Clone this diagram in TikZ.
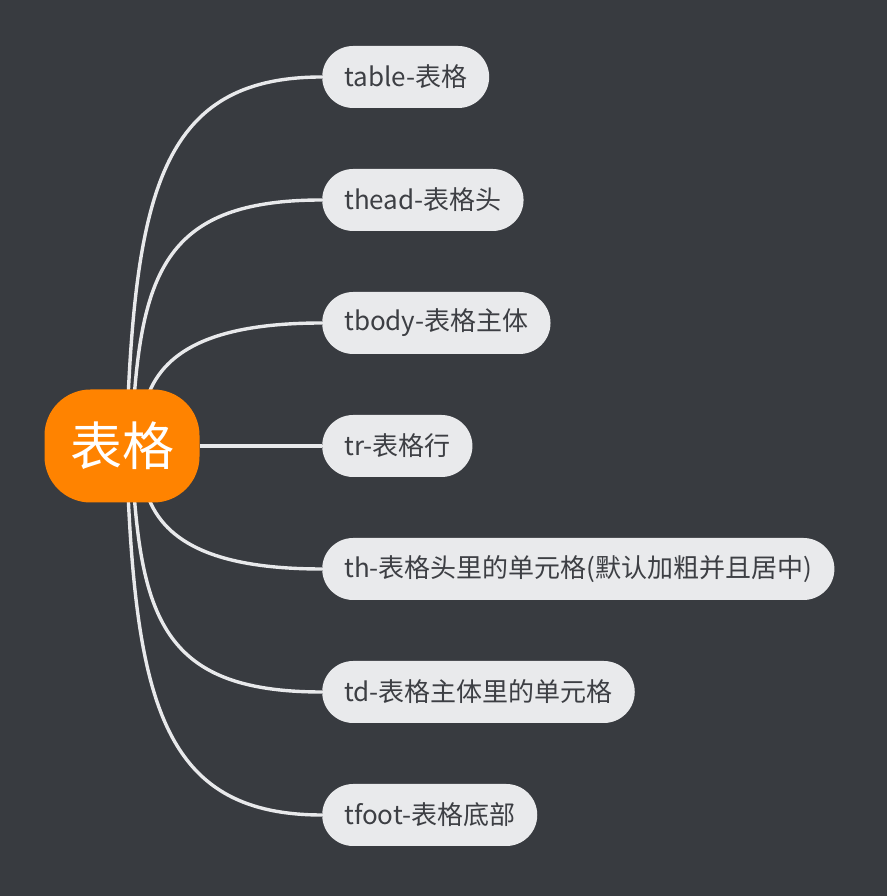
\documentclass[tikz,border=0pt]{standalone}
\usepackage{fontspec}
\setmainfont{Noto Sans CJK SC}
\usepackage{xcolor}
\usetikzlibrary{positioning}
\usetikzlibrary{calc}
\definecolor{canvas}{HTML}{383B40}
\definecolor{hubfill}{HTML}{FF8300}
\definecolor{leaffill}{HTML}{E9EAEC}
\definecolor{leaftext}{HTML}{3D3F44}
\definecolor{edgecol}{HTML}{E8E9EB}
\pgfdeclarelayer{bg}
\pgfdeclarelayer{edges}
\pgfsetlayers{bg,edges,main}
\tikzset{
  hub/.style={rectangle, fill=hubfill, text=white, minimum width=155pt, minimum height=113pt, rounded corners=46pt, inner sep=0pt, font=\fontsize{52}{58}\selectfont},
  leaf/.style={rectangle, fill=leaffill, text=leaftext, anchor=west, minimum height=62pt, inner xsep=22pt, inner ysep=0pt, rounded corners=31pt, font=\fontsize{26}{30}\selectfont},
  branch/.style={draw=edgecol, line width=3.4pt}
}

\begin{document}
\begin{tikzpicture}[x=1pt, y=1pt]
    % Canvas
    \begin{pgfonlayer}{bg}
    \fill[canvas] (0,0) rectangle (887,896);
    \end{pgfonlayer}
    \useasboundingbox (0,0) rectangle (887,896);

    % Place nodes
    \node [hub] (hub) at (122,450) {表格};
    \node [leaf] (table) at (322,819) {table-表格};
    \node [leaf] (thead) at (322,696) {thead-表格头};
    \node [leaf] (tbody) at (322,573) {tbody-表格主体};
    \node [leaf] (tr) at (322,450) {tr-表格行};
    \node [leaf] (th) at (322,327) {th-表格头里的单元格(默认加粗并且居中)};
    \node [leaf] (td) at (322,204) {td-表格主体里的单元格};
    \node [leaf] (tfoot) at (322,81) {tfoot-表格底部};

    % Draw edges
    \begin{pgfonlayer}{edges}
    \path [branch] ($(hub.north)+(6,-10)$) .. controls +(10,220) and +(-152,0) .. (table.west);
    \path [branch] ($(hub.north)+(12,-10)$) .. controls +(10,137) and +(-147,0) .. (thead.west);
    \path [branch] ($(hub.north)+(24,-12)$) .. controls +(15,50) and +(-110,0) .. (tbody.west);
    \path [branch] (hub.east) -- (tr.west);
    \path [branch] ($(hub.south)+(24,12)$) .. controls +(15,-50) and +(-110,0) .. (th.west);
    \path [branch] ($(hub.south)+(12,10)$) .. controls +(10,-137) and +(-147,0) .. (td.west);
    \path [branch] ($(hub.south)+(6,10)$) .. controls +(10,-220) and +(-152,0) .. (tfoot.west);
    \end{pgfonlayer}
\end{tikzpicture}
\end{document}
